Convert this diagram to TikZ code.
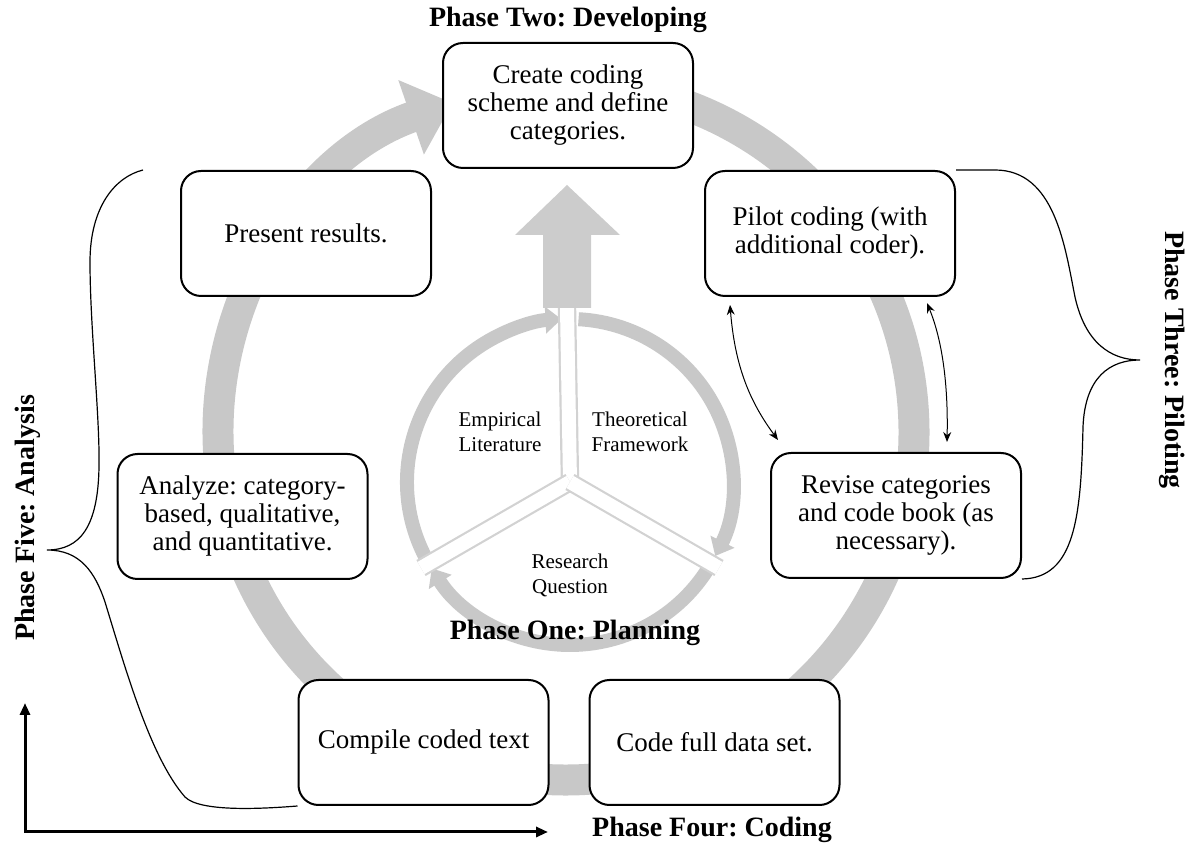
\documentclass[tikz,border=0pt]{standalone}
\usepackage{fontspec}
\setmainfont{Liberation Serif}
\usetikzlibrary{arrows.meta,calc}
\definecolor{ringgray}{RGB}{200,200,200}
\definecolor{arrowgray}{RGB}{204,204,204}
\definecolor{spokegray}{RGB}{210,210,210}
\begin{document}
\frenchspacing
\begin{tikzpicture}[x=0.5pt,y=0.5pt,
  box/.style={draw=black, line width=1pt, fill=white, rounded corners=10pt,
    minimum width=125pt, minimum height=62.5pt, align=center, inner sep=2pt,
    font=\fontsize{13.5}{14}\selectfont},
  phase/.style={font=\fontsize{14}{16}\selectfont\bfseries, inner sep=0pt},
  innertext/.style={font=\fontsize{10.5}{12.5}\selectfont, align=center, inner sep=0pt},
  ring/.style={draw=ringgray, line width=15.5pt},
  innerring/.style={draw=ringgray, line width=7pt},
  spoke/.style={draw=spokegray, line width=1.1pt, double=white, double distance=7pt},
  brace/.style={draw=black, line width=0.6pt},
  axis/.style={draw=black, line width=1.5pt},
  pair/.style={draw=black, line width=0.5pt, {Stealth[length=5pt,width=4pt]}-{Stealth[length=5pt,width=4pt]}}
]
\useasboundingbox (0,0) rectangle (1191,847);
\coordinate (C) at (566,415);
\coordinate (I) at (570,365);

% big gray cycle arrow
\draw[ring, -{Triangle[width=38pt,length=22pt]}] ($(C)+(95:348)$) arc[start angle=95, end angle=-251, radius=348];

% inner cycle
\draw[innerring, -{Triangle[width=13pt,length=8pt]}] ($(I)+(212:163)$) arc[start angle=212, end angle=93, radius=163];
\draw[innerring, -{Triangle[width=13pt,length=8pt]}] ($(I)+(87:163)$) arc[start angle=87, end angle=-27, radius=163];
\draw[innerring, -{Triangle[width=13pt,length=8pt]}] ($(I)+(-33:163)$) arc[start angle=-33, end angle=-148, radius=163];
\coordinate (sUp) at (567,539);
\coordinate (sLeft) at ($(I)+(210:172)$);
\coordinate (sRight) at ($(I)+(-30:172)$);
\draw[spoke] (I) -- (sUp);
\draw[spoke] (I) -- (sLeft);
\draw[spoke] (I) -- (sRight);

% big up arrow
\fill[arrowgray] (543,539) -- (543,612) -- (515,612) -- (567,662) -- (620,612) -- (591,612) -- (591,539) -- cycle;

% inner labels
\node[innertext] (emp) at (500,415) {Empirical\\Literature};
\node[innertext] (theo) at (640,415) {Theoretical\\Framework};
\node[innertext] (rq) at (570,272) {Research\\Question};

% boxes
\node[box] (top) at (568,741.5) {Create coding\\scheme and define\\categories.};
\node[box] (present) at (306,613.5) {Present results.};
\node[box] (pilot) at (830,613.5) {Pilot coding (with\\additional coder).};
\node[box] (analyze) at (242.5,330.5) {Analyze: category-\\based, qualitative,\\and quantitative.};
\node[box] (revise) at (896,331.5) {Revise categories\\and code book (as\\necessary).};
\node[box] (compile) at (423.5,104.5) {Compile coded text};
\node[box] (codefull) at (714.5,104.5) {Code full data set.};

% phase labels
\node[phase] (p2) at (568,827) {Phase Two: Developing};
\node[phase] (p1) at (575,214) {Phase One: Planning};
\node[phase] (p4) at (712,17) {Phase Four: Coding};
\node[phase, rotate=-90] (p3) at (1172,487) {Phase Three: Piloting};
\node[phase, rotate=90] (p5) at (28,329) {Phase Five: Analysis};

% two-way arrows between pilot and revise
\coordinate (a1) at (730,542);
\coordinate (b1) at (778,407);
\coordinate (a2) at (927,544);
\coordinate (b2) at (947,405);
\draw[pair] (a1) .. controls (735,480) and (750,445) .. (b1);
\draw[pair] (a2) .. controls (945,500) and (948,450) .. (b2);

% braces
\draw[brace] (pilot.north east) -- (995,677) .. controls (1055,677) and (1065,600) .. (1075,550)
  .. controls (1085,505) and (1110,487) .. (1140,487)
  .. controls (1110,487) and (1085,470) .. (1083,420)
  .. controls (1081,330) and (1075,269) .. (revise.south east);
\draw[brace] (143,677) .. controls (115,670) and (90,640) .. (90,585)
  .. controls (90,520) and (100,430) .. (99,380)
  .. controls (98,320) and (80,297) .. (47,297)
  .. controls (80,297) and (95,275) .. (105,245)
  .. controls (125,180) and (150,90) .. (185,50)
  .. controls (200,35) and (260,38) .. (compile.south west);

% axes
\coordinate (origin) at (25,15);
\coordinate (yend) at (25,144);
\coordinate (xend) at (548,15);
\draw[axis, {Triangle[length=6pt,width=5pt]}-{Triangle[length=6pt,width=5pt]}] (yend) -- (origin) -- (xend);
\end{tikzpicture}
\end{document}
